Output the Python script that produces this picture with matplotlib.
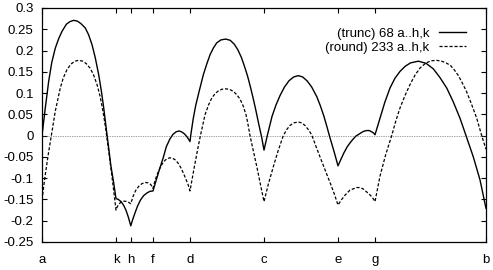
# importo le librerie necessarie
import matplotlib
matplotlib.use('Agg')
import matplotlib.pyplot as plt

# font simile a quello di gnuplot
plt.rcParams['font.family'] = ['Liberation Sans', 'DejaVu Sans']

# posizioni e nomi dei tick sull'asse x
tick_pos = [0, 1/6, 1/5, 1/4, 1/3, 1/2, 2/3, 3/4, 1]
tick_nomi = ['a', 'k', 'h', 'f', 'd', 'c', 'e', 'g', 'b']

# curva (trunc), punti (un gruppo per ogni tratto tra due tick)
x_trunc = [0.0, 0.0074, 0.0151, 0.022, 0.030, 0.038, 0.045, 0.055, 0.063, 0.0714, 0.080, 0.088, 0.0975,
           0.105, 0.1126, 0.120, 0.1277, 0.134, 0.139, 0.1464, 0.151, 0.155, 0.161, 1/6,
           0.172, 0.178, 0.184, 0.189, 0.194, 0.2,
           0.204, 0.209, 0.215, 0.222, 0.229, 0.236, 0.243, 0.25,
           0.254, 0.258, 0.265, 0.273, 0.280, 0.288, 0.295, 0.302, 0.309, 0.316, 0.322, 0.328, 1/3,
           0.3349, 0.3408, 0.346, 0.352, 0.358, 0.3633, 0.371, 0.3784, 0.386, 0.3935, 0.403, 0.4137,
           0.424, 0.433, 0.441, 0.449, 0.456, 0.463, 0.470, 0.476, 0.482, 0.488, 0.4948, 0.5,
           0.5074, 0.518, 0.527, 0.536, 0.546, 0.5563, 0.567, 0.5773, 0.587, 0.5968, 0.607, 0.6187,
           0.627, 0.6351, 0.642, 0.6486, 0.6577, 2/3,
           0.674, 0.6802, 0.687, 0.6937, 0.700, 0.707, 0.7162, 0.724, 0.7313, 0.737, 0.7426, 0.747, 0.75,
           0.7613, 0.772, 0.7838, 0.795, 0.8063, 0.818, 0.830, 0.8475, 0.865, 0.8813, 0.896, 0.9115,
           0.926, 0.9414, 0.955, 0.9714, 0.9865, 1.0]
y_trunc = [0.0, 0.065, 0.128, 0.172, 0.206, 0.229, 0.245, 0.262, 0.268, 0.271, 0.269, 0.263, 0.253,
           0.237, 0.214, 0.183, 0.143, 0.103, 0.065, 0.002, -0.036, -0.07, -0.108, -0.148,
           -0.150, -0.155, -0.164, -0.175, -0.190, -0.212,
           -0.198, -0.183, -0.166, -0.151, -0.141, -0.135, -0.131, -0.130,
           -0.116, -0.102, -0.078, -0.052, -0.026, -0.008, 0.003, 0.009, 0.011, 0.008, 0.003, -0.005, -0.014,
           0.0, 0.041, 0.070, 0.096, 0.121, 0.143, 0.168, 0.190, 0.206, 0.218, 0.225, 0.227,
           0.224, 0.215, 0.202, 0.184, 0.163, 0.140, 0.112, 0.086, 0.058, 0.028, -0.004, -0.034,
           0.0, 0.045, 0.072, 0.094, 0.114, 0.129, 0.138, 0.141, 0.138, 0.129, 0.115, 0.092,
           0.070, 0.045, 0.020, -0.005, -0.037, -0.071,
           -0.054, -0.040, -0.027, -0.017, -0.009, -0.001, 0.005, 0.010, 0.012, 0.012, 0.009, 0.006, 0.002,
           0.041, 0.078, 0.112, 0.135, 0.151, 0.163, 0.171, 0.175, 0.170, 0.157, 0.137, 0.112,
           0.080, 0.041, 0.0, -0.050, -0.104, -0.171]

# curva (round), punti
x_round = [0.0, 0.004, 0.009, 0.015, 0.021, 0.030, 0.0412, 0.048, 0.0563, 0.065, 0.074, 0.0827,
           0.092, 0.100, 0.1088, 0.116, 0.1239, 0.130, 0.1351, 0.140, 0.1441, 0.150, 0.1554, 0.161, 1/6,
           0.170, 0.175, 0.180, 0.186, 0.192, 0.2,
           0.205, 0.211, 0.218, 0.225, 0.232, 0.239, 0.245, 0.25,
           0.254, 0.258, 0.263, 0.268, 0.273, 0.278, 0.283, 0.288, 0.294, 0.300, 0.306, 0.312, 0.318,
           0.324, 0.329, 1/3,
           0.339, 0.3446, 0.351, 0.3568, 0.3671, 0.375, 0.3822, 0.390, 0.3971, 0.405, 0.4137, 0.422,
           0.4309, 0.438, 0.446, 0.453, 0.4595, 0.463, 0.4685, 0.476, 0.4842, 0.492, 0.5,
           0.510, 0.521, 0.532, 0.5435, 0.551, 0.5586, 0.567, 0.5773, 0.585, 0.5923, 0.600, 0.6074,
           0.618, 0.6306, 0.6486, 0.658, 2/3,
           0.675, 0.6824, 0.6937, 0.7088, 0.716, 0.723, 0.7365, 0.744, 0.75,
           0.7613, 0.774, 0.7876, 0.797, 0.8063, 0.8175, 0.8288, 0.840, 0.8514, 0.865, 0.877, 0.889,
           0.900, 0.910, 0.92, 0.929, 0.9385, 0.947, 0.956, 0.967, 0.9791, 0.9903, 1.0]
y_round = [-0.151, -0.118, -0.080, -0.038, 0.0, 0.058, 0.112, 0.136, 0.155, 0.168, 0.175, 0.177,
           0.175, 0.169, 0.158, 0.143, 0.120, 0.096, 0.070, 0.040, 0.012, -0.035, -0.078, -0.125, -0.175,
           -0.166, -0.159, -0.155, -0.154, -0.155, -0.160,
           -0.143, -0.129, -0.119, -0.113, -0.110, -0.111, -0.115, -0.124,
           -0.108, -0.095, -0.082, -0.071, -0.063, -0.057, -0.054, -0.052, -0.053, -0.057, -0.064, -0.074, -0.087,
           -0.102, -0.115, -0.130,
           -0.097, -0.065, -0.030, 0.0, 0.049, 0.072, 0.088, 0.099, 0.105, 0.109, 0.110, 0.109,
           0.104, 0.097, 0.086, 0.070, 0.049, 0.032, 0.0, -0.036, -0.075, -0.115, -0.155,
           -0.113, -0.073, -0.035, 0.0, 0.014, 0.024, 0.030, 0.032, 0.030, 0.024, 0.014, 0.002,
           -0.028, -0.062, -0.110, -0.136, -0.163,
           -0.150, -0.140, -0.128, -0.122, -0.122, -0.125, -0.137, -0.145, -0.155,
           -0.095, -0.045, 0.0, 0.035, 0.065, 0.094, 0.120, 0.142, 0.159, 0.171, 0.176, 0.177,
           0.175, 0.171, 0.165, 0.154, 0.140, 0.123, 0.104, 0.075, 0.041, 0.0, -0.032]

# figura 493x270 pixel
fig = plt.figure(figsize=(4.93, 2.70), dpi=100)
ax = fig.add_axes([42/493, 28/270, 444/493, 234/270])

# linea dello zero tratteggiata
ax.axhline(0, color='#444444', lw=0.5, dashes=(1, 1.5))

# le due curve
ax.plot(x_trunc, y_trunc, color='black', lw=1.0, label='(trunc) 68 a..h,k')
ax.plot(x_round, y_round, color='black', lw=0.9, dashes=(2.5, 1.5), label='(round) 233 a..h,k')

# limiti degli assi
ax.set_xlim(0, 1)
ax.set_ylim(-0.25, 0.3)

# tick sull'asse y
yt = [-0.25, -0.2, -0.15, -0.1, -0.05, 0, 0.05, 0.1, 0.15, 0.2, 0.25, 0.3]
ax.set_yticks(yt)
ax.set_yticklabels(['%g' % v for v in yt])
ax.set_xticks(tick_pos)
ax.set_xticklabels(tick_nomi)

# tick verso l'interno su tutti i lati come gnuplot
ax.tick_params(direction='in', length=3.5, width=0.8, top=True, right=True, labelsize=9.5)
ax.tick_params(axis='x', pad=8.5)
ax.tick_params(axis='y', pad=6)
for s in ax.spines.values():
    s.set_linewidth(0.9)

# legenda in alto a destra con la linea dopo il testo
ax.legend(loc='upper right', bbox_to_anchor=(0.9765, 0.956), frameon=False, markerfirst=False,
          fontsize=9.5, handlelength=2.1, handletextpad=0.7, labelspacing=0.15, borderaxespad=0.3)

# salvo il grafico
fig.savefig('out.png', dpi=100)
